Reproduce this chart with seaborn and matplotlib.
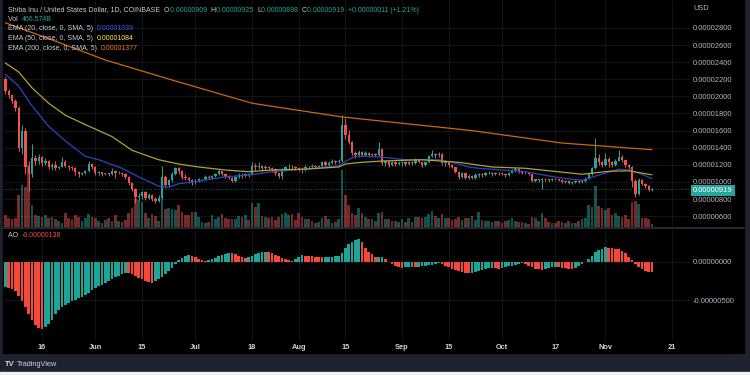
import numpy as np
import pandas as pd
import matplotlib
matplotlib.use('Agg')
import matplotlib.pyplot as plt
import seaborn as sns
from matplotlib.patches import Rectangle
from matplotlib.lines import Line2D

# Estilo base
sns.set_theme(style='dark')
plt.rcParams['font.family'] = ['Liberation Sans', 'DejaVu Sans']

# ---------------- dados (precos em 1e-6 USD) ----------------
start = pd.Timestamp('2022-05-05')
first_open = 22.0

close = [
    # maio (5..31)
    20.6, 20.2, 19.5, 18.6, 14.0, 16.0, 11.8, 10.9, 12.8, 12.4,
    12.9, 12.2, 12.5, 11.7, 12.0, 11.6, 11.8, 12.3, 11.9, 11.7,
    11.6, 11.2, 10.9, 11.0, 11.3, 12.1, 11.8,
    # junho
    11.0, 11.2, 10.9, 11.0, 10.9, 11.3, 11.0, 11.1, 10.9, 10.6,
    9.9, 9.2, 8.2, 8.4, 8.8, 8.1, 8.5, 8.0, 7.8, 8.1,
    10.6, 9.6, 10.2, 10.9, 11.6, 11.3, 10.6, 10.5, 10.2, 10.0,
    # julho
    10.1, 10.3, 10.3, 10.6, 10.5, 10.7, 10.9, 11.3, 10.9, 10.6,
    10.5, 10.1, 10.6, 10.8, 10.7, 10.9, 10.8, 11.9, 11.7, 11.9,
    11.6, 11.8, 11.6, 11.5, 11.0, 10.7, 11.4, 11.7, 11.8, 11.7, 11.6,
    # agosto
    11.5, 11.4, 11.8, 11.7, 11.9, 11.8, 11.9, 12.3, 12.0, 12.2,
    12.5, 12.3, 12.5, 16.7, 15.5, 14.7, 13.4, 13.2, 13.5, 13.2,
    13.4, 13.1, 13.3, 13.1, 13.9, 12.2, 12.4, 12.0, 12.3, 12.1, 12.2,
    # setembro
    12.3, 12.1, 12.3, 12.2, 12.6, 12.3, 12.0, 12.3, 13.0, 13.3,
    13.1, 13.3, 12.2, 12.3, 12.0, 11.7, 11.2, 10.6, 11.0, 10.5,
    10.7, 10.5, 10.8, 10.9, 10.8, 11.0, 11.1, 10.9, 11.1, 11.0,
    # outubro
    10.9, 10.8, 11.1, 11.4, 11.5, 11.2, 11.0, 11.1, 10.9, 10.1,
    10.3, 10.2, 10.4, 10.3, 10.2, 10.4, 10.3, 10.2, 10.0, 10.1,
    9.9, 10.0, 10.1, 10.0, 10.1, 10.4, 10.9, 11.6, 12.8, 12.3, 12.0,
    # novembro (1..15)
    12.7, 12.3, 12.0, 12.5, 12.9, 12.6, 12.0, 11.7, 10.1, 8.6,
    10.2, 9.8, 9.5, 9.09, 9.19,
]

high = [
    22.3, 20.9, 20.3, 19.7, 18.9, 16.6, 16.3, 12.4, 14.4, 13.2,
    13.3, 13.0, 12.8, 12.6, 12.2, 12.4, 11.9, 12.9, 12.6, 12.0,
    11.9, 11.7, 11.3, 11.2, 11.4, 12.4, 12.2,
    11.9, 11.3, 11.2, 11.1, 11.1, 11.6, 11.4, 11.3, 11.2, 11.0,
    10.7, 10.0, 9.3, 8.7, 9.0, 8.9, 8.7, 8.6, 8.2, 8.5,
    11.9, 10.8, 10.4, 11.2, 11.8, 11.75, 11.4, 10.9, 10.6, 10.3,
    10.4, 10.5, 10.4, 10.8, 10.8, 10.8, 11.1, 11.5, 11.3, 11.0,
    10.8, 10.6, 10.8, 11.0, 11.0, 11.1, 11.1, 12.3, 12.2, 12.3,
    12.0, 12.0, 11.9, 11.8, 11.6, 11.1, 11.6, 11.9, 12.1, 12.0, 11.9,
    11.8, 11.7, 12.0, 11.9, 12.1, 12.0, 12.0, 12.5, 12.4, 12.4,
    12.7, 12.6, 12.7, 17.8, 17.5, 16.1, 14.8, 13.6, 13.7, 13.6,
    13.6, 13.5, 13.4, 13.4, 14.7, 14.0, 12.6, 12.5, 12.5, 12.4, 12.5,
    12.4, 12.4, 12.4, 12.4, 12.8, 12.7, 12.4, 12.5, 13.2, 13.7,
    13.4, 13.5, 13.4, 12.5, 12.4, 12.1, 11.8, 11.3, 11.2, 11.1,
    10.9, 10.8, 11.0, 11.1, 11.0, 11.2, 11.3, 11.2, 11.2, 11.2,
    11.1, 11.0, 11.2, 11.5, 11.7, 11.5, 11.3, 11.2, 11.1, 10.9,
    10.4, 10.4, 10.5, 10.5, 10.4, 10.5, 10.5, 10.4, 10.3, 10.2,
    10.2, 10.1, 10.2, 10.2, 10.2, 10.6, 11.1, 11.8, 15.1, 13.3, 12.5,
    13.4, 12.9, 12.4, 12.7, 13.7, 13.1, 12.7, 12.1, 11.9, 10.3,
    10.5, 10.4, 9.9, 9.6, 9.25,
]

low = [
    20.3, 19.8, 19.2, 18.3, 13.6, 13.3, 10.9, 9.0, 10.6, 12.0,
    12.1, 11.9, 12.0, 11.5, 11.4, 11.4, 11.5, 11.7, 11.7, 11.4,
    11.4, 10.8, 10.6, 10.8, 10.9, 11.2, 11.5,
    10.8, 10.8, 10.7, 10.8, 10.7, 10.8, 10.5, 10.9, 10.7, 10.4,
    9.7, 9.0, 7.6, 7.9, 8.0, 7.9, 8.0, 7.8, 7.5, 7.7,
    8.0, 9.3, 9.4, 10.0, 10.8, 10.9, 10.4, 10.2, 9.9, 9.6,
    9.8, 10.0, 10.1, 10.2, 10.3, 10.4, 10.6, 10.8, 10.7, 10.5,
    10.3, 10.0, 10.0, 10.5, 10.5, 10.6, 10.6, 10.8, 11.3, 11.5,
    11.3, 11.4, 11.4, 11.2, 10.8, 10.5, 10.4, 11.3, 11.5, 11.5, 11.4,
    11.3, 11.1, 11.3, 11.5, 11.6, 11.6, 11.7, 11.8, 11.8, 11.9,
    12.1, 12.1, 12.2, 12.3, 15.0, 14.4, 13.2, 12.8, 12.9, 13.0,
    13.0, 12.9, 12.9, 12.9, 13.0, 12.0, 11.9, 11.8, 11.9, 11.9, 12.0,
    11.9, 11.9, 12.0, 12.0, 12.1, 12.2, 11.8, 11.9, 12.2, 12.9,
    12.8, 12.9, 12.0, 11.9, 11.8, 11.6, 11.0, 10.4, 10.5, 10.3,
    10.4, 10.3, 10.4, 10.6, 10.6, 10.7, 10.9, 10.7, 10.8, 10.8,
    10.8, 10.6, 10.7, 11.0, 11.2, 11.0, 10.9, 10.9, 10.8, 10.0,
    10.0, 10.0, 9.2, 10.1, 10.0, 10.1, 10.2, 10.1, 9.9, 9.9,
    9.8, 9.8, 9.9, 9.9, 9.9, 10.0, 10.3, 10.8, 11.5, 12.0, 11.8,
    11.9, 11.8, 11.7, 11.9, 12.4, 12.3, 11.8, 11.5, 9.4, 8.3,
    8.5, 9.6, 9.3, 8.9, 8.98,
]

# volume em bilhoes de SHIB
volume_b = [
    1800, 1300, 1200, 1400, 4800, 6300, 6000, 9300, 3300, 1800,
    1700, 1500, 1800, 1300, 1500, 1200, 900, 600, 2100, 1300,
    1200, 1800, 1500, 900, 1300, 2000, 1500,
    1400, 900, 600, 1100, 1400, 900, 1800, 900, 700, 1000,
    2100, 2800, 4300, 4000, 3700, 2100, 1400, 1900, 1600, 900,
    4200, 2700, 2800, 2700, 2550, 3300, 2250, 1800, 1800, 2250,
    2250, 1500, 750, 600, 750, 1800, 1200, 1500, 1950, 1350,
    1200, 1200, 1200, 1650, 1500, 1800, 1050, 3600, 3000, 3600,
    1650, 1500, 1350, 1500, 1050, 1500, 1950, 2100, 1800, 1950, 1050,
    2100, 1500, 1200, 1200, 900, 600, 750, 1350, 1650, 1200,
    600, 750, 1200, 8500, 4800, 3300, 2100, 1800, 2850, 2100,
    1500, 1200, 1200, 900, 2100, 2250, 1200, 1200, 900, 900, 750,
    1200, 750, 1350, 750, 1500, 1500, 1350, 1550, 2000, 2400,
    1600, 1300, 1900, 1300, 1350, 1050, 1200, 1500, 1050, 1350,
    1350, 1650, 1000, 2250, 1000, 900, 900, 750, 900, 900,
    600, 900, 1000, 1350, 900, 750, 750, 600, 500, 1500,
    1350, 900, 2100, 1350, 750, 600, 600, 900, 750, 600,
    900, 600, 600, 900, 1200, 1350, 3300, 3000, 6150, 3150, 2850,
    2550, 2850, 1800, 2100, 1650, 1500, 1800, 1200, 3750, 3900,
    3450, 1350, 1350, 1200, 466.574,
]

# Awesome Oscillator (1e-6)
ao = [
    -3.3, -3.35, -3.5, -3.8, -4.4, -5.1, -5.9, -6.8, -7.6, -8.2,
    -8.6, -8.75, -8.5, -8.1, -7.5, -6.8, -6.3, -5.9, -5.6, -5.3,
    -5.1, -4.95, -4.75, -4.6, -4.3, -4.0, -3.7, -3.45, -3.2, -3.0,
    -2.8, -2.55, -2.25, -2.0, -1.8, -1.6, -1.4, -1.45, -1.65, -1.85,
    -2.05, -2.3, -2.5, -2.65, -2.7, -2.55, -2.3, -2.0, -1.6, -1.2,
    -0.8, -0.3, 0.2, 0.5, 0.8, 0.9, 0.75, 0.55, 0.35, 0.2,
    0.15, 0.2, 0.3, 0.5, 0.7, 0.9, 1.05, 1.15, 1.1, 0.95,
    0.8, 0.65, 0.5, 0.55, 0.75, 0.95, 1.1, 1.2, 1.3, 1.25,
    1.1, 0.9, 0.7, 0.5, 0.35, 0.2, 0.1, 0.35, 0.6, 0.85,
    0.8, 0.75, 0.7, 0.65, 0.6, 0.55, 0.6, 0.62, 0.65, 0.7,
    0.8, 1.1, 1.8, 2.3, 2.6, 2.8, 3.0, 2.5, 1.8, 1.3,
    0.95, 0.55, 0.6, 0.62, 0.3, 0.0, -0.3, -0.55, -0.7, -0.8,
    -0.75, -0.7, -0.65, -0.7, -0.65, -0.55, -0.5, -0.45, -0.4, -0.3,
    -0.2, -0.3, -0.5, -0.7, -0.9, -1.05, -1.2, -1.3, -1.4, -1.5,
    -1.45, -1.3, -1.2, -1.05, -0.95, -0.85, -0.8, -0.85, -0.9, -0.85,
    -0.7, -0.6, -0.5, -0.4, -0.3, -0.2, -0.35, -0.55, -0.75, -0.9,
    -1.0, -1.05, -0.95, -0.85, -0.75, -0.7, -0.75, -0.8, -0.85, -0.9,
    -0.92, -0.8, -0.6, -0.35, -0.1, 0.3, 0.8, 1.2, 1.5, 1.7,
    1.85, 1.8, 1.75, 1.7, 1.6, 1.4, 1.1, 0.6, 0.2, -0.3,
    -0.7, -1.0, -1.25, -1.3, -1.38,
]

# medias moveis (dia, valor)
ema20_days = [0, 4, 8, 13, 18, 24, 28, 35, 40, 46, 49, 52, 58, 66, 73, 80, 90,
              100, 102, 105, 110, 113, 120, 130, 136, 139, 142, 156, 166, 173,
              178, 184, 187, 190, 194]
ema20 = [22.6, 21.2, 18.9, 16.5, 14.8, 13.0, 12.6, 11.6, 10.6, 9.5, 9.4, 9.8,
         10.1, 10.6, 10.8, 11.2, 11.5, 11.9, 12.4, 13.0, 13.0, 12.9, 12.6, 12.6,
         12.1, 11.75, 11.6, 11.2, 10.5, 10.2, 10.8, 11.5, 11.4, 11.05, 10.39]
ema50_days = [0, 4, 8, 13, 18, 24, 32, 38, 46, 52, 58, 66, 73, 80, 90, 100,
              102, 107, 113, 125, 136, 146, 156, 173, 181, 187, 194]
ema50 = [23.9, 22.85, 21.0, 19.2, 17.8, 16.7, 15.3, 13.7, 12.6, 12.1, 11.75,
         11.4, 11.2, 11.4, 11.5, 11.75, 12.1, 12.3, 12.45, 12.6, 12.3, 11.75,
         11.6, 10.9, 11.25, 11.3, 10.84]
ema200_days = [0, 14, 30, 51, 74, 101, 140, 167, 194]
ema200 = [28.6, 26.6, 24.25, 21.8, 19.2, 17.6, 16.0, 14.55, 13.77]

tick_dates = ['2022-05-16', '2022-06-01', '2022-06-15', '2022-07-01', '2022-07-18',
              '2022-08-01', '2022-08-15', '2022-09-01', '2022-09-15', '2022-10-01',
              '2022-10-17', '2022-11-01', '2022-11-21']
tick_labels = ['16', 'Jun', '15', 'Jul', '18', 'Aug', '15', 'Sep', '15', 'Oct',
               '17', 'Nov', '21']
price_ticks = [6, 8, 10, 12, 14, 16, 18, 20, 22, 24, 26, 28]
ao_ticks = [0, -5]

# ---------------- cores ----------------
UP, DOWN = '#26a69a', '#ef5350'
AO_UP, AO_DOWN = '#1fa597', '#f5483b'
TXT = '#c9ccd4'
GRID = '#15181f'
W, H = 750, 375
VOL_TOP = 34050

c = np.array(close)
o = np.array([first_open] + close[:-1])
hi = np.array(high)
lo = np.array(low)
x = np.arange(len(c))
cols = np.where(c >= o, UP, DOWN)

fig = plt.figure(figsize=(7.5, 3.75), dpi=100, facecolor='#1e222d')
fig.patches.append(Rectangle((3 / W, 1 - 353 / H), 741 / W, 353 / H,
                             transform=fig.transFigure, color='black', zorder=-2))
fig.patches.append(Rectangle((0, 0), 1, 3 / H, transform=fig.transFigure,
                             color='#f0f0f0', zorder=-2))

ax = fig.add_axes([3 / W, 1 - 227 / H, 687 / W, 227 / H])
ax2 = fig.add_axes([3 / W, 1 - 341 / H, 687 / W, 111 / H], sharex=ax)
for a in (ax, ax2):
    a.set_facecolor('black')
    for s in a.spines.values():
        s.set_visible(False)
    a.grid(True, color=GRID, lw=0.6)
    a.set_axisbelow(True)

# volume (parte de baixo do painel de preco)
ax.bar(x, np.array(volume_b) / VOL_TOP, width=0.74, bottom=0, color=cols,
       alpha=0.5, lw=0, transform=ax.get_xaxis_transform(), zorder=2)

# velas
ax.vlines(x, lo, hi, colors=cols, lw=0.7, zorder=3)
ax.bar(x, np.maximum(np.abs(c - o), 0.06), bottom=np.minimum(o, c), width=0.7,
       color=cols, lw=0, zorder=4)

# medias
sns.lineplot(x=ema20_days, y=ema20, ax=ax, color='#2747c4', linewidth=0.9, zorder=5)
sns.lineplot(x=ema50_days, y=ema50, ax=ax, color='#b3a22e', linewidth=0.9, zorder=5)
sns.lineplot(x=ema200_days, y=ema200, ax=ax, color='#c9690f', linewidth=0.9, zorder=5)

ax.axhline(close[-1], color=UP, ls=(0, (1, 2)), lw=0.6, alpha=0.8, zorder=6)

ax.set_xlim(-0.7, 205.4)
ax.set_ylim(4.74, 31.26)
ax.set_yticks(price_ticks)
ax.set_yticklabels([f'{v * 1e-6:.8f}' for v in price_ticks])
ax.yaxis.tick_right()
ax.tick_params(axis='y', length=0, pad=2.2, labelsize=5.5, labelcolor='#b2b5be')
ax.tick_params(axis='x', length=0, labelbottom=False)
ax.set_xlabel('')
ax.set_ylabel('')

# AO
ao_arr = np.array(ao)
ao_cols = [AO_UP] + [AO_UP if ao_arr[i] >= ao_arr[i - 1] else AO_DOWN
                     for i in range(1, len(ao_arr))]
ax2.bar(x, ao_arr, width=0.78, color=ao_cols, lw=0, zorder=3)
ax2.set_ylim(-10.26, 4.1)
ax2.set_yticks(ao_ticks)
ax2.set_yticklabels([f'{v * 1e-6:.8f}' for v in ao_ticks])
ax2.yaxis.tick_right()
ax2.tick_params(axis='y', length=0, pad=2.2, labelsize=5.5, labelcolor='#b2b5be')
tick_pos = [(pd.Timestamp(d) - start).days for d in tick_dates]
ax2.set_xticks(tick_pos)
ax2.set_xticklabels(tick_labels)
ax2.tick_params(axis='x', length=0, pad=2.5, labelsize=5.3, labelcolor='#d1d4dc')
for t in ax2.get_xticklabels():
    t.set_fontweight('bold')

# separador entre paineis
fig.add_artist(Line2D([3 / W, 744 / W], [1 - 228 / H] * 2, color='#262a35', lw=1.4))

# etiqueta de preco atual
fig.text(713 / W, 1 - 190.5 / H, '0.00000919', ha='center', va='center',
         fontsize=5.5, color='white',
         bbox=dict(boxstyle='square,pad=0.3', fc=UP, ec='none'))
fig.text(693 / W, 1 - 9 / H, 'USD', ha='left', va='center', fontsize=5.3, color='#b2b5be')

# legendas de texto
renderer = fig.canvas.get_renderer()


def chain(x_px, y_px, parts, size=5.0):
    for txt, col in parts:
        t = fig.text(x_px / W, 1 - y_px / H, txt, color=col, fontsize=size,
                     ha='left', va='center')
        x_px += t.get_window_extent(renderer).width
    return x_px


xp = chain(8, 10, [('Shiba Inu / United States Dollar, 1D, COINBASE  ', TXT)])
for k, v in [('O', '0.00000909'), ('H', '0.00000925'), ('L', '0.00000898'),
             ('C', '0.00000919')]:
    xp = chain(xp, 10, [(k, TXT), (v + '  ', UP)])
chain(xp, 10, [('+0.00000011 (+1.21%)', UP)])
chain(8, 19.5, [('Vol  ', TXT), ('466.574B', UP)])
chain(8, 29, [('EMA (20, close, 0, SMA, 5)  ', TXT), ('0.00001039', '#2962ff')])
chain(8, 38.5, [('EMA (50, close, 0, SMA, 5)  ', TXT), ('0.00001084', '#ffeb3b')])
chain(8, 48, [('EMA (200, close, 0, SMA, 5)  ', TXT), ('0.00001377', '#f57c00')])
chain(8, 235.5, [('AO  ', TXT), ('-0.00000138', AO_DOWN)])

# rodape
fig.text(5 / W, 1 - 364 / H, 'TV', fontsize=5.5, fontweight='bold', color='#d1d4dc',
         ha='left', va='center')
fig.text(17 / W, 1 - 364 / H, 'TradingView', fontsize=5.3, color='#d1d4dc',
         ha='left', va='center')

fig.savefig('out.png', dpi=100, facecolor=fig.get_facecolor())
